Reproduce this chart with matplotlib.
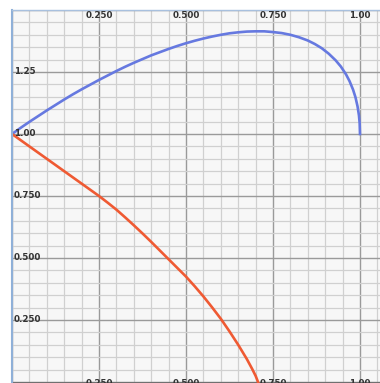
import matplotlib.pyplot as plt
from matplotlib.ticker import MultipleLocator

# valores
blue_x = [0, 0.025, 0.05, 0.075, 0.1, 0.125, 0.15, 0.175, 0.2, 0.225, 0.25,
          0.275, 0.3, 0.325, 0.35, 0.375, 0.4, 0.425, 0.45, 0.475, 0.5, 0.525,
          0.55, 0.575, 0.6, 0.625, 0.65, 0.675, 0.7, 0.725, 0.75, 0.775, 0.8,
          0.825, 0.85, 0.87, 0.89, 0.91, 0.93, 0.945, 0.96, 0.97, 0.98, 0.987,
          0.993, 0.997, 0.999, 1.0]
blue_y = [1.0, 1.025, 1.049, 1.072, 1.095, 1.117, 1.139, 1.160, 1.18, 1.199,
          1.218, 1.236, 1.254, 1.271, 1.287, 1.302, 1.317, 1.330, 1.343,
          1.355, 1.366, 1.376, 1.385, 1.393, 1.40, 1.406, 1.41, 1.413, 1.414,
          1.414, 1.411, 1.407, 1.40, 1.390, 1.377, 1.363, 1.346, 1.324, 1.297,
          1.272, 1.240, 1.213, 1.179, 1.148, 1.111, 1.075, 1.044, 1.0]

red_x = [0, 0.05, 0.1, 0.15, 0.2, 0.25, 0.275, 0.3, 0.325, 0.35, 0.375, 0.4,
         0.425, 0.45, 0.475, 0.5, 0.525, 0.55, 0.575, 0.6, 0.625, 0.65, 0.675,
         0.69, 0.7, 0.707]
red_y = [1.0, 0.95, 0.90, 0.85, 0.80, 0.75, 0.723, 0.695, 0.664, 0.632,
         0.599, 0.565, 0.530, 0.495, 0.460, 0.425, 0.386, 0.345, 0.301, 0.255,
         0.204, 0.15, 0.092, 0.053, 0.025, 0.0]

x_ticks = [0.25, 0.5, 0.75, 1.0]
x_labels = ["0.250", "0.500", "0.750", "1.00"]
y_ticks = [0.25, 0.5, 0.75, 1.0, 1.25]
y_labels = ["0.250", "0.500", "0.750", "1.00", "1.25"]

fig = plt.figure(figsize=(3.8, 3.83), dpi=100)
ax = fig.add_axes([12 / 380, 0, 368 / 380, 373 / 383])
ax.set_facecolor("#f7f7f7")
ax.set_xlim(0, 368 / 348)
ax.set_ylim(-1 / 248, 372 / 248)

# cuadricula
ax.xaxis.set_major_locator(MultipleLocator(0.25))
ax.yaxis.set_major_locator(MultipleLocator(0.25))
ax.xaxis.set_minor_locator(MultipleLocator(0.05))
ax.yaxis.set_minor_locator(MultipleLocator(0.05))
ax.grid(which="major", color="#9a9a9a", lw=1.0)
ax.grid(which="minor", color="#d0d0d0", lw=0.9)
ax.set_axisbelow(True)
ax.tick_params(which="both", length=0, labelbottom=False, labelleft=False)

for s in ["right", "bottom"]:
    ax.spines[s].set_visible(False)
ax.spines["left"].set_color("#8fb0d8")
ax.spines["left"].set_linewidth(1.5)
ax.spines["top"].set_color("#a8c0de")
ax.spines["top"].set_linewidth(1.0)
ax.axhline(-1 / 248, color="#707070", lw=1.5)

ax.plot(blue_x, blue_y, color="#6679e0", lw=1.9, solid_joinstyle="round")
ax.plot(red_x, red_y, color="#ef5a33", lw=1.9, solid_joinstyle="round")

# etiquetas dentro del grafico
for t, l in zip(x_ticks, x_labels):
    ax.text(t, 1.478, l, ha="center", va="center", fontsize=6.3,
            fontweight="bold", color="#333333")
    ax.text(t, -0.006, l, ha="center", va="center", fontsize=6.3,
            fontweight="bold", color="#333333", clip_on=False)
for t, l in zip(y_ticks, y_labels):
    ax.text(0.006, t, l, ha="left", va="center", fontsize=6.3,
            fontweight="bold", color="#333333")

plt.savefig("out.png", dpi=100)
